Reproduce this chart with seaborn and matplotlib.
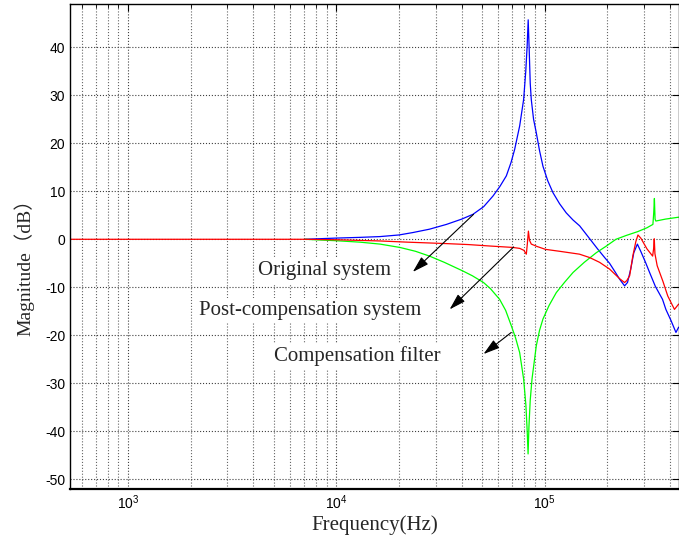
"""Bode magnitude plot: original system, compensation filter and compensated result."""

import matplotlib
matplotlib.use("Agg")
import matplotlib.pyplot as plt
from matplotlib.ticker import LogLocator, FuncFormatter, NullFormatter
import numpy as np
import seaborn as sns


# Original system (blue)
orig_freq = [7060, 10000, 13000, 16200, 20000, 23300, 28000, 33800, 40000, 45300,
             51000, 56500, 61000, 65500, 69000, 71800, 75900, 79300, 81200, 82500,
             83400, 84400, 85300, 86300, 88500, 91200, 94500, 98200, 103500, 109700,
             118000, 127000, 137000, 147300, 160000, 180300, 195000, 205000, 218000, 229000,
             242000, 250000, 259000, 268000, 278800, 290000, 305000, 319000, 340000, 368000,
             382000, 405000, 427000, 440000]
orig_db = [0, 0.25, 0.4, 0.56, 0.9, 1.4, 2.1, 3.1, 4.2, 5.2,
           6.8, 9.0, 11.0, 13.2, 16.0, 18.7, 23.6, 29.1, 35.0, 40.5,
           45.7, 39.0, 32.5, 29.1, 25.0, 22.2, 18.5, 15.2, 12.2, 9.7,
           7.4, 5.5, 4.0, 2.8, 0.8, -2.1, -3.9, -5.0, -6.8, -8.3,
           -9.7, -9.0, -6.2, -2.8, -1.0, -2.6, -4.8, -6.9, -9.8, -12.5,
           -14.6, -17.0, -19.4, -18.3]

# Compensation filter (green)
comp_freq = [7060, 10000, 13000, 16200, 20200, 24000, 28000, 33000, 40500, 45000,
             50900, 55000, 60800, 65000, 69200, 72500, 75900, 79300, 81300, 82500,
             83300, 84100, 85300, 87000, 91200, 94500, 98200, 105000, 113800, 125000,
             137000, 155000, 177000, 198000, 220000, 246600, 280000, 310000, 331000, 334000,
             336500, 339000, 342000, 380000, 440000]
comp_db = [0, -0.3, -0.6, -1.0, -1.7, -2.5, -3.5, -4.8, -6.6, -7.6,
           -9.0, -10.3, -12.5, -14.8, -18.0, -20.5, -23.6, -29.1, -34.5, -40.0,
           -44.7, -39.0, -33.5, -29.1, -22.2, -19.0, -16.6, -13.8, -11.1, -8.9,
           -6.9, -4.8, -2.8, -1.4, 0.0, 0.8, 1.6, 2.4, 3.1, 5.5,
           8.5, 4.2, 3.8, 4.2, 4.6]

# Post-compensation system (red)
post_freq = [527, 7060, 10000, 16200, 22000, 33800, 43000, 54500, 70500, 76000,
             79500, 81700, 82600, 83600, 84600, 86300, 92000, 101000, 118000, 147000,
             164400, 183600, 205000, 229000, 242000, 248000, 256000, 265000, 274000, 280600,
             290000, 310000, 330000, 333500, 336000, 338500, 347000, 370000, 390000, 420000,
             440000]
post_db = [0, 0, -0.1, -0.35, -0.6, -0.9, -1.1, -1.4, -1.7, -1.9,
           -2.3, -3.1, -1.0, 1.7, -0.2, -1.0, -1.5, -2.1, -2.5, -3.1,
           -3.8, -4.8, -6.2, -8.2, -9.0, -8.6, -7.6, -3.5, -0.5, 0.9,
           0.2, -2.0, -3.5, -2.0, 0.1, -3.0, -5.5, -8.8, -11.8, -14.6,
           -13.5]

y_ticks = list(range(-50, 41, 10))

sns.set_style("white")
plt.rcParams["font.family"] = ["Liberation Sans", "DejaVu Sans"]
plt.rcParams["axes.unicode_minus"] = False
plt.rcParams["mathtext.fontset"] = "custom"
plt.rcParams["mathtext.rm"] = "Liberation Sans"
plt.rcParams["mathtext.it"] = "Liberation Sans"

fig, ax = plt.subplots(figsize=(6.79, 5.39), dpi=100)
fig.subplots_adjust(left=0.1031, right=0.9995, bottom=0.0928, top=0.9926)

sns.lineplot(x=orig_freq, y=orig_db, ax=ax, color="#0000ff", lw=0.9, estimator=None)
sns.lineplot(x=comp_freq, y=comp_db, ax=ax, color="#00ff00", lw=0.9, estimator=None)
sns.lineplot(x=post_freq, y=post_db, ax=ax, color="#ff0000", lw=0.9, estimator=None)

ax.set_xscale("log")
ax.set_xlim(527, 440000)
ax.set_ylim(-52, 49)
ax.set_yticks(y_ticks)

ax.xaxis.set_major_locator(LogLocator(base=10))
ax.xaxis.set_minor_locator(LogLocator(base=10, subs=np.arange(2, 10)))
ax.xaxis.set_minor_formatter(NullFormatter())
ax.xaxis.set_major_formatter(FuncFormatter(lambda v, p: r"$\mathregular{10^{%d}}$" % round(np.log10(v))))

ax.tick_params(which="both", direction="in", top=True, right=True, labelsize=10, colors="black")
ax.tick_params(which="major", length=5, width=0.8)
ax.tick_params(which="minor", length=3, width=0.6)

ax.grid(True, which="major", axis="both", ls=":", color="0.25", lw=0.8)
ax.grid(True, which="minor", axis="x", ls=":", color="0.4", lw=0.8)

for side in ["left", "bottom", "top", "right"]:
    ax.spines[side].set_color("black")
    ax.spines[side].set_linewidth(1.0)
ax.spines["bottom"].set_linewidth(1.6)

ax.set_xlabel("Frequency(Hz)", family="Liberation Serif", fontsize=15, labelpad=2)
ax.set_ylabel("Magnitude（dB）", family=["Liberation Serif", "Noto Sans CJK SC"], fontsize=14)
ax.yaxis.set_label_coords(-0.058, 0.466)

# annotation labels and arrows
box = dict(boxstyle="square,pad=0.15", fc="white", ec="none")
arrow = dict(arrowstyle="-|>,head_length=1.0,head_width=0.3", color="black", lw=0.8,
             shrinkA=0, shrinkB=0)

ax.text(8810, -6.6, "Original system", family="Liberation Serif", fontsize=15,
        ha="center", va="center", bbox=box)
ax.annotate("", xy=(23300, -6.8), xytext=(45600, 5.2), arrowprops=arrow)

ax.text(7460, -14.9, "Post-compensation system", family="Liberation Serif", fontsize=15,
        ha="center", va="center", bbox=box)
ax.annotate("", xy=(35000, -14.6), xytext=(71000, -1.6), arrowprops=arrow)

ax.text(12620, -24.3, "Compensation filter", family="Liberation Serif", fontsize=15,
        ha="center", va="center", bbox=box)
ax.annotate("", xy=(50900, -23.9), xytext=(69200, -19.4), arrowprops=arrow)

fig.savefig("out.png", dpi=100, facecolor="white")
